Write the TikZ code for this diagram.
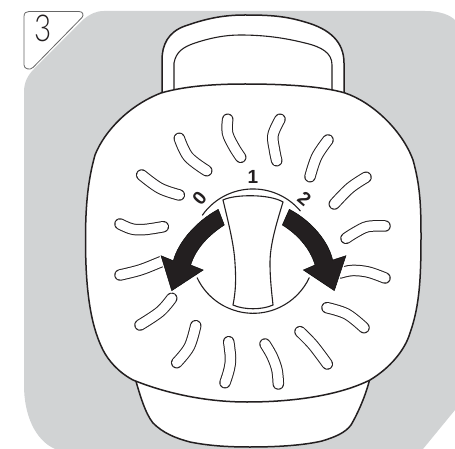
\documentclass[tikz,border=0pt]{standalone}
\usepackage{fontspec}
\usepackage{graphicx}
\setmainfont{Liberation Sans}
\newfontfamily\stepfont{Lato Light}
\definecolor{ink}{HTML}{231F20}
\definecolor{panel}{HTML}{D1D3D4}
\tikzset{
  outline/.style={draw=ink,line width=1.5pt,fill=white,line join=round},
  thinline/.style={draw=ink,line width=1.1pt},
  slot/.style={draw=ink,line width=1pt,double=white,double distance=9.5pt,line cap=round},
  bigarrow/.style={preaction={draw=white,line width=3pt},fill=ink,line join=miter},
  dial/.style={font=\bfseries\fontsize{19}{19}\selectfont,text=ink,inner sep=0pt}
}
\begin{document}
\begin{tikzpicture}[x=1pt,y=-1pt]
\useasboundingbox (0,0) rectangle (455,449);
% panel
\fill[panel] (104,11) -- (425,11) .. controls (440,11) and (450,15) .. (455,20) -- (455,410) -- (423,449) -- (55,449)
  .. controls (35,440) and (24,415) .. (24,385) -- (24,92) .. controls (24,82) and (28,75) .. (34,69) -- (84,19) .. controls (90,14) and (96,11) .. (104,11) -- cycle;
% number tab
\draw[draw=gray!80!black,line width=.8pt,fill=white,line join=round] (29,11.5) -- (79,11.5) .. controls (83,11.5) and (84,15) .. (82,17.5) -- (33,67.5) .. controls (30,70.5) and (24,69) .. (24,65) -- (24,16.5) .. controls (24,13) and (26,11.5) .. (29,11.5) -- cycle;
\node[font=\fontsize{37}{37}\selectfont\stepfont,text=ink,inner sep=0pt] (stepnum) at (43,28.5) {\scalebox{.8}[1]{3}};
% handle
\draw[outline] (162,95) -- (162,60) .. controls (162,45) and (168,32) .. (185,26) .. controls (205,19) and (222,15) .. (245,15) .. controls (270,15) and (285,16) .. (305,22) .. controls (330,29) and (344,42) .. (344,63) -- (344,95);
\draw[thinline,fill=white] (174,91) -- (174,63) .. controls (176,52) and (183,47) .. (195,43) .. controls (210,38) and (225,35) .. (240,35) .. controls (265,35) and (285,38) .. (305,43) .. controls (322,47) and (332,53) .. (332,65) -- (332,91);
% base
\draw[outline] (135,378) .. controls (140,395) and (145,413) .. (153,423) .. controls (163,433) and (175,438) .. (190,442) .. controls (210,446) and (230,447) .. (250,447) .. controls (280,447) and (305,445) .. (322,441) .. controls (335,437) and (345,433) .. (351,425) .. controls (358,413) and (366,395) .. (370,378);
% body
\draw[outline] (245,84) .. controls (290,84) and (325,87) .. (345,93) .. controls (372,102) and (402,130) .. (413,160) .. controls (420,185) and (421,205) .. (421,235) .. controls (421,275) and (420,305) .. (410,333) .. controls (405,350) and (390,368) .. (370,380) .. controls (340,395) and (295,402) .. (247,402) .. controls (205,402) and (165,393) .. (133,380) .. controls (118,372) and (108,360) .. (103,350) .. controls (93,330) and (85.5,300) .. (85.5,240) .. controls (85.5,205) and (88,180) .. (95,155) .. controls (105,130) and (130,105) .. (161,93) .. controls (185,86) and (215,84) .. (245,84) -- cycle;
% slots
\foreach \pts in {
 {(227.7,119.3) (227.5,133) (234,147) (240.7,157.3)},
 {(280,119.3) (273,135) (274.5,150) (276.7,160.7)},
 {(328,140) (316.7,156.7) (310,176.7)},
 {(366,177.3) (350,188) (334.3,204)},
 {(385,226) (368,226.5) (356,232) (346,238.3)},
 {(340,273) (352,270.5) (368,272) (385,278)},
 {(327,307.7) (346.7,314) (364,327.7)},
 {(300,331.7) (313,345) (327.3,364)},
 {(265,344) (272,356) (277,370) (278.3,384)},
 {(228.7,341.7) (230.5,358) (229,370) (225,382.7)},
 {(195.7,325.7) (189.3,346.7) (176.7,362.7)},
 {(171.7,298.3) (160,311.7) (140,325)},
 {(120,275) (140,270) (158,263) (170,258)},
 {(120,224) (132,229) (145,229.5) (163.3,226.7)},
 {(141.7,175) (160,188.3) (179.3,195)},
 {(179.3,138.3) (188.3,156.7) (206.7,170.7)}}{
  \draw[slot] plot[smooth,tension=.6] coordinates \pts;
}
% hides the end of the slot that runs under the left arrow
\fill[white] (160,254.5) -- (177,246) -- (177,264) -- cycle;
% dial arcs
\draw[thinline] (202.2,215.4) arc[start angle=-145,end angle=-40,radius=62];
\draw[thinline] (197,277.5) arc[start angle=155,end angle=25,radius=62];
% knob
\draw[thinline] (223,200) .. controls (235,194) and (270,194) .. (283,202)
  .. controls (276,225) and (270,245) .. (270,263) .. controls (270,280) and (272,295) .. (273,305)
  .. controls (262,310) and (244,310) .. (233,305) .. controls (236,290) and (236,278) .. (235,263)
  .. controls (234,245) and (229,225) .. (223,200) -- cycle;
% arrows
\draw[bigarrow] (218.3,209.3) -- (224.3,225) .. controls (209,235) and (196,248) .. (190.7,265) -- (203.3,270) -- (171.7,290.7) -- (161,255.7) -- (173.3,260.7) .. controls (178,243) and (195,222) .. (218.3,209.3) -- cycle;
\draw[bigarrow] (289.3,209.3) -- (282.3,225) .. controls (297,234) and (310,248) .. (315,265) -- (303.3,270) -- (334.3,290.7) -- (346,255.7) -- (332.7,260) .. controls (328,240) and (310,220) .. (289.3,209.3) -- cycle;
% scale labels
\node[dial] (one) at (253,177) {1};
\node[dial,rotate=50] (zero) at (199.5,198) {0};
\node[dial,rotate=-40] (two) at (304.5,199) {2};
\end{tikzpicture}
\end{document}
